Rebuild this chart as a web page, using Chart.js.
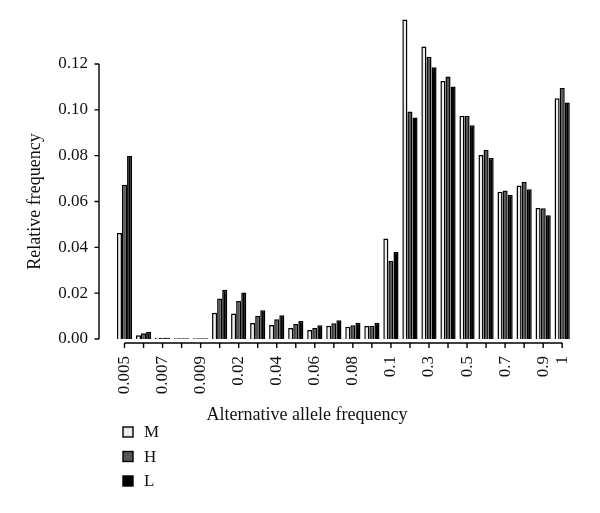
<!DOCTYPE html>
<html>
<head>
<meta charset="utf-8">
<script src="https://cdn.jsdelivr.net/npm/chart.js@4"></script>
<style>
    html, body { margin: 0; padding: 0; background: #fff; }
    #wrap { width: 600px; height: 513px; }
</style>
</head>
<body>
<div id="wrap"><canvas id="chart" width="600" height="513"></canvas></div>
<script>
"use strict";

var categories = ['0.005', '0.006', '0.007', '0.008', '0.009', '0.01', '0.02', '0.03', '0.04', '0.05',
    '0.06', '0.07', '0.08', '0.09', '0.1', '0.2', '0.3', '0.4', '0.5', '0.6', '0.7', '0.8', '0.9', '1'];
var tickLabels = ['0.005', '', '0.007', '', '0.009', '', '0.02', '', '0.04', '', '0.06', '', '0.08', '',
    '0.1', '', '0.3', '', '0.5', '', '0.7', '', '0.9', '1'];
var seriesM = [0.0463, 0.0016, 0.0006, 0.0003, 0.0003, 0.0115, 0.0111, 0.0070, 0.0061, 0.0048, 0.0039, 0.0058,
    0.0053, 0.0057, 0.0439, 0.1394, 0.1276, 0.1126, 0.0974, 0.0803, 0.0643, 0.0670, 0.0572, 0.1051];
var seriesH = [0.0673, 0.0025, 0.0005, 0.0003, 0.0003, 0.0177, 0.0166, 0.0102, 0.0086, 0.0066, 0.0048, 0.0069,
    0.0060, 0.0058, 0.0340, 0.0993, 0.1232, 0.1145, 0.0974, 0.0825, 0.0648, 0.0685, 0.0571, 0.1095];
var seriesL = [0.0799, 0.0032, 0.0005, 0.0003, 0.0003, 0.0215, 0.0203, 0.0126, 0.0104, 0.0079, 0.0060, 0.0082,
    0.0071, 0.0071, 0.0381, 0.0967, 0.1186, 0.1102, 0.0933, 0.0790, 0.0628, 0.0653, 0.0540, 0.1032];
var seriesNames = ['M', 'H', 'L'];
var seriesColors = ['#ececec', '#555555', '#000000'];
var yTicks = [0, 0.02, 0.04, 0.06, 0.08, 0.10, 0.12];

var FONT = "'Liberation Serif', 'Times New Roman', serif";
Chart.defaults.font.family = FONT;
Chart.defaults.color = '#111';

function makeDataset(i, values) {
    return {
        label: seriesNames[i],
        data: values,
        backgroundColor: seriesColors[i],
        borderColor: '#000',
        borderWidth: 1.5,
        borderSkipped: 'start',
        categoryPercentage: 0.8,
        barPercentage: 1.0,
        clip: false
    };
}

// axes are drawn apart from the plot, like the original figure
var axesPlugin = {
    id: 'detachedAxes',
    afterDraw: function(chart) {
        var ctx = chart.ctx;
        var x = chart.scales.x;
        var y = chart.scales.y;
        var y0 = y.getPixelForValue(0);
        var yTop = y.getPixelForValue(yTicks[yTicks.length - 1]);
        var axisX = y.right - 16;
        var axisY = y0 + 4;

        ctx.save();
        ctx.strokeStyle = '#000';
        ctx.lineWidth = 1.4;
        ctx.beginPath();
        ctx.moveTo(axisX, yTop);
        ctx.lineTo(axisX, y0);
        yTicks.forEach(function(v) {
            var py = y.getPixelForValue(v);
            ctx.moveTo(axisX, py);
            ctx.lineTo(axisX - 4.5, py);
        });
        var first = x.getPixelForTick(0);
        var last = x.getPixelForTick(categories.length - 1);
        ctx.moveTo(first, axisY);
        ctx.lineTo(last, axisY);
        categories.forEach(function(c, i) {
            var px = x.getPixelForTick(i);
            ctx.moveTo(px, axisY);
            ctx.lineTo(px, axisY + 5);
        });
        ctx.stroke();

        // x axis title
        ctx.fillStyle = '#111';
        ctx.font = '18px ' + FONT;
        ctx.textAlign = 'center';
        ctx.textBaseline = 'alphabetic';
        ctx.fillText('Alternative allele frequency', 307, 420);

        // legend, one entry per row
        ctx.font = '17px ' + FONT;
        ctx.textAlign = 'left';
        ctx.textBaseline = 'middle';
        chart.data.datasets.forEach(function(ds, i) {
            var cy = 432 + i * 24.5;
            ctx.fillStyle = ds.backgroundColor;
            ctx.fillRect(123, cy - 5, 10, 10);
            ctx.strokeRect(123, cy - 5, 10, 10);
            ctx.fillStyle = '#111';
            ctx.fillText(ds.label, 144, cy + 1);
        });
        ctx.restore();
    }
};

var chart = new Chart(document.getElementById('chart'), {
    type: 'bar',
    data: {
        labels: categories,
        datasets: [
            makeDataset(0, seriesM),
            makeDataset(1, seriesH),
            makeDataset(2, seriesL)
        ]
    },
    options: {
        responsive: false,
        animation: false,
        layout: {
            padding: { top: 64, right: 20, left: 0, bottom: 0 }
        },
        plugins: {
            legend: { display: false },
            tooltip: { enabled: false }
        },
        scales: {
            x: {
                grid: { display: false, drawTicks: false },
                border: { display: false },
                ticks: {
                    autoSkip: false,
                    minRotation: 90,
                    maxRotation: 90,
                    padding: 17,
                    font: { size: 17 },
                    callback: function(v, i) {
                        return tickLabels[i];
                    }
                },
                afterFit: function(scale) {
                    scale.height = 174;
                }
            },
            y: {
                min: 0,
                max: 0.12,
                grid: { display: false, drawTicks: false },
                border: { display: false },
                ticks: {
                    stepSize: 0.02,
                    padding: 27,
                    font: { size: 17 },
                    callback: function(v) {
                        return v.toFixed(2);
                    }
                },
                title: {
                    display: true,
                    text: 'Relative frequency',
                    font: { size: 18 },
                    padding: { top: 24, bottom: 0 }
                },
                afterFit: function(scale) {
                    scale.width = 115;
                }
            }
        }
    },
    plugins: [axesPlugin]
});
</script>
</body>
</html>
